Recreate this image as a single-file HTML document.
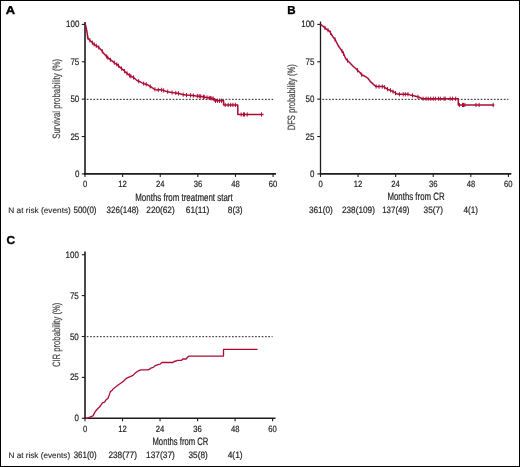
<!DOCTYPE html>
<html><head><meta charset="utf-8"><style>
html,body{margin:0;padding:0;background:#fff;}
body{width:520px;height:467px;overflow:hidden;}
svg{display:block;font-family:"Liberation Sans", sans-serif;will-change:transform;text-rendering:geometricPrecision;}
</style></head><body>
<svg width="520" height="467" viewBox="0 0 520 467">
<rect x="0" y="0" width="520" height="467" fill="#fff"/>
<rect x="0.5" y="0.5" width="519" height="466" fill="none" stroke="#000" stroke-width="1"/>
<path d="M85 21.9 V174.7" fill="none" stroke="#1c1c1c" stroke-width="1.6"/>
<path d="M84.2 173.9 H276" fill="none" stroke="#1c1c1c" stroke-width="1.6"/>
<line x1="81.8" y1="173.9" x2="85" y2="173.9" stroke="#1c1c1c" stroke-width="1.1"/>
<text x="74.88" y="176.9" font-size="9.4" fill="#242424" textLength="4.44" lengthAdjust="spacingAndGlyphs" stroke="#242424" stroke-width="0.2">0</text>
<line x1="81.8" y1="136.53" x2="85" y2="136.53" stroke="#1c1c1c" stroke-width="1.1"/>
<text x="70.42" y="139.53" font-size="9.4" fill="#242424" textLength="8.89" lengthAdjust="spacingAndGlyphs" stroke="#242424" stroke-width="0.2">25</text>
<line x1="81.8" y1="99.15" x2="85" y2="99.15" stroke="#1c1c1c" stroke-width="1.1"/>
<text x="70.41" y="102.15" font-size="9.4" fill="#242424" textLength="8.89" lengthAdjust="spacingAndGlyphs" stroke="#242424" stroke-width="0.2">50</text>
<line x1="81.8" y1="61.77" x2="85" y2="61.77" stroke="#1c1c1c" stroke-width="1.1"/>
<text x="70.42" y="64.77" font-size="9.4" fill="#242424" textLength="8.89" lengthAdjust="spacingAndGlyphs" stroke="#242424" stroke-width="0.2">75</text>
<line x1="81.8" y1="24.4" x2="85" y2="24.4" stroke="#1c1c1c" stroke-width="1.1"/>
<text x="66" y="27.4" font-size="9.4" fill="#242424" textLength="13.33" lengthAdjust="spacingAndGlyphs" stroke="#242424" stroke-width="0.2">100</text>
<line x1="85" y1="173.9" x2="85" y2="176.9" stroke="#1c1c1c" stroke-width="1.1"/>
<text x="82.88" y="186.8" font-size="9.0" fill="#242424" textLength="4.25" lengthAdjust="spacingAndGlyphs" stroke="#242424" stroke-width="0.2">0</text>
<line x1="122.62" y1="173.9" x2="122.62" y2="176.9" stroke="#1c1c1c" stroke-width="1.1"/>
<text x="118.26" y="186.8" font-size="9.0" fill="#242424" textLength="8.51" lengthAdjust="spacingAndGlyphs" stroke="#242424" stroke-width="0.2">12</text>
<line x1="160.24" y1="173.9" x2="160.24" y2="176.9" stroke="#1c1c1c" stroke-width="1.1"/>
<text x="155.91" y="186.8" font-size="9.0" fill="#242424" textLength="8.51" lengthAdjust="spacingAndGlyphs" stroke="#242424" stroke-width="0.2">24</text>
<line x1="197.86" y1="173.9" x2="197.86" y2="176.9" stroke="#1c1c1c" stroke-width="1.1"/>
<text x="193.63" y="186.8" font-size="9.0" fill="#242424" textLength="8.51" lengthAdjust="spacingAndGlyphs" stroke="#242424" stroke-width="0.2">36</text>
<line x1="235.48" y1="173.9" x2="235.48" y2="176.9" stroke="#1c1c1c" stroke-width="1.1"/>
<text x="231.32" y="186.8" font-size="9.0" fill="#242424" textLength="8.51" lengthAdjust="spacingAndGlyphs" stroke="#242424" stroke-width="0.2">48</text>
<line x1="273.1" y1="173.9" x2="273.1" y2="176.9" stroke="#1c1c1c" stroke-width="1.1"/>
<text x="268.81" y="186.8" font-size="9.0" fill="#242424" textLength="8.51" lengthAdjust="spacingAndGlyphs" stroke="#242424" stroke-width="0.2">60</text>
<line x1="86.8" y1="99.35" x2="273.1" y2="99.35" stroke="#222" stroke-width="1" stroke-dasharray="1.7 1.6"/>
<text transform="translate(60.3 138.4) rotate(-90)" x="-0.37" y="0" font-size="10.6" fill="#444" stroke="#444" stroke-width="0.2" textLength="79.84" lengthAdjust="spacingAndGlyphs">Survival probability (%)</text>
<text x="135.26" y="200.6" font-size="10.6" fill="#242424" textLength="97.4" lengthAdjust="spacingAndGlyphs" stroke="#242424" stroke-width="0.2">Months from treatment start</text>
<path d="M85.2 24.3 L85.9 26.4 L86.5 29.5 L86.9 31.5 L87.3 34.4 L87.7 37.4 L88.6 39 L90.3 40.7 L92.9 43.3 L95.4 45.4 L98 46.7 L99.7 48.4 L101.8 50.6 L103.6 53.3 L105.7 55.6 L108.3 58.1 L111.7 60.7 L115.1 63.3 L118 65.2 L119.9 67.1 L121.9 68.9 L123.8 70.3 L125.7 72.4 L128.3 74.4 L130.8 76.3 L133.4 77.4 L135.3 79 L137.3 80.7 L139.8 81.6 L142.4 83.1 L145 84.1 L147.3 84.6 L149.6 86.1 L151.9 87.5 L154.2 89.1 L156.5 89.9 L158.8 89.8 L161.2 89.7 L163.5 90.4 L165.8 91.2 L168.1 91.8 L170.4 92.3 L172.7 92.6 L175.5 92.9 L178.9 93.5 L182.4 94.5 L185.8 95.1 L189.3 95.2 L192.8 95.5 L196.2 96 L199.7 96.3 L203 96.7 L205.7 97.3 L208.4 97.7 L211.1 98.3 L214.3 98.7 L214.3 100.8 L223.6 100.8 L223.6 104.9 L237.8 104.9 L237.8 114.5 L263.5 114.5" fill="none" stroke="#ac0c35" stroke-width="1.5" stroke-linejoin="round"/>
<path d="M87.7 35.3v4.2M89.9 38.2v4.2M92.4 40.7v4.2M94.1 42.21v4.2M96.3 43.75v4.2M98.8 45.4v4.2M102.3 49.25v4.2M106.6 54.37v4.2M107.8 55.52v4.2M110.4 57.61v4.2M114.3 60.59v4.2M116.8 62.31v4.2M118.5 63.6v4.2M121.5 66.44v4.2M124.5 68.97v4.2M127 71.3v4.2M129.6 73.29v4.2M130.8 74.2v4.2M133.5 75.38v4.2M138.7 79.1v4.2M143.7 81.5v4.2M146.2 82.26v4.2M150.2 84.37v4.2M154.9 87.24v4.2M158.3 87.72v4.2M161.6 87.72v4.2M163.6 88.33v4.2M167.7 89.6v4.2M172 90.41v4.2M175.8 90.85v4.2M178.5 91.33v4.2M183.2 92.54v4.2M186.5 93.02v4.2M190.6 93.21v4.2M193.3 93.47v4.2M197.3 93.99v4.2M199.2 94.16v4.2M200.7 94.32v4.2M203.4 94.69v4.2M204.2 94.87v4.2M207 95.39v4.2M209.2 95.78v4.2M210.3 96.02v4.2M211.8 96.29v4.2M213.2 96.46v4.2M215.5 98.7v4.2M217.5 98.7v4.2M219.5 98.7v4.2M221.5 98.7v4.2M225.2 102.8v4.2M228.2 102.8v4.2M230.7 102.8v4.2M232.9 102.8v4.2M235.4 102.8v4.2M241.2 112.4v4.2M243.5 112.4v4.2M244.5 112.4v4.2M247.2 112.4v4.2M261.5 112.4v4.2" stroke="#ac0c35" stroke-width="1" fill="none"/>
<path d="M320.5 21.5 V174.7" fill="none" stroke="#1c1c1c" stroke-width="1.3"/>
<path d="M319.85 173.9 H511.3" fill="none" stroke="#1c1c1c" stroke-width="1.6"/>
<line x1="317.3" y1="173.9" x2="320.5" y2="173.9" stroke="#1c1c1c" stroke-width="1.1"/>
<text x="310.08" y="176.9" font-size="9.4" fill="#242424" textLength="4.44" lengthAdjust="spacingAndGlyphs" stroke="#242424" stroke-width="0.2">0</text>
<line x1="317.3" y1="136.53" x2="320.5" y2="136.53" stroke="#1c1c1c" stroke-width="1.1"/>
<text x="305.62" y="139.53" font-size="9.4" fill="#242424" textLength="8.89" lengthAdjust="spacingAndGlyphs" stroke="#242424" stroke-width="0.2">25</text>
<line x1="317.3" y1="99.15" x2="320.5" y2="99.15" stroke="#1c1c1c" stroke-width="1.1"/>
<text x="305.62" y="102.15" font-size="9.4" fill="#242424" textLength="8.89" lengthAdjust="spacingAndGlyphs" stroke="#242424" stroke-width="0.2">50</text>
<line x1="317.3" y1="61.77" x2="320.5" y2="61.77" stroke="#1c1c1c" stroke-width="1.1"/>
<text x="305.61" y="64.77" font-size="9.4" fill="#242424" textLength="8.89" lengthAdjust="spacingAndGlyphs" stroke="#242424" stroke-width="0.2">75</text>
<line x1="317.3" y1="24.4" x2="320.5" y2="24.4" stroke="#1c1c1c" stroke-width="1.1"/>
<text x="301.19" y="27.4" font-size="9.4" fill="#242424" textLength="13.33" lengthAdjust="spacingAndGlyphs" stroke="#242424" stroke-width="0.2">100</text>
<line x1="320.5" y1="173.9" x2="320.5" y2="176.9" stroke="#1c1c1c" stroke-width="1.1"/>
<text x="318.38" y="186.8" font-size="9.0" fill="#242424" textLength="4.25" lengthAdjust="spacingAndGlyphs" stroke="#242424" stroke-width="0.2">0</text>
<line x1="358.08" y1="173.9" x2="358.08" y2="176.9" stroke="#1c1c1c" stroke-width="1.1"/>
<text x="353.72" y="186.8" font-size="9.0" fill="#242424" textLength="8.51" lengthAdjust="spacingAndGlyphs" stroke="#242424" stroke-width="0.2">12</text>
<line x1="395.66" y1="173.9" x2="395.66" y2="176.9" stroke="#1c1c1c" stroke-width="1.1"/>
<text x="391.32" y="186.8" font-size="9.0" fill="#242424" textLength="8.51" lengthAdjust="spacingAndGlyphs" stroke="#242424" stroke-width="0.2">24</text>
<line x1="433.24" y1="173.9" x2="433.24" y2="176.9" stroke="#1c1c1c" stroke-width="1.1"/>
<text x="429.01" y="186.8" font-size="9.0" fill="#242424" textLength="8.51" lengthAdjust="spacingAndGlyphs" stroke="#242424" stroke-width="0.2">36</text>
<line x1="470.82" y1="173.9" x2="470.82" y2="176.9" stroke="#1c1c1c" stroke-width="1.1"/>
<text x="466.65" y="186.8" font-size="9.0" fill="#242424" textLength="8.51" lengthAdjust="spacingAndGlyphs" stroke="#242424" stroke-width="0.2">48</text>
<line x1="508.4" y1="173.9" x2="508.4" y2="176.9" stroke="#1c1c1c" stroke-width="1.1"/>
<text x="504.11" y="186.8" font-size="9.0" fill="#242424" textLength="8.51" lengthAdjust="spacingAndGlyphs" stroke="#242424" stroke-width="0.2">60</text>
<line x1="322.3" y1="99.35" x2="508.4" y2="99.35" stroke="#222" stroke-width="1" stroke-dasharray="1.7 1.6"/>
<text transform="translate(294.7 129.75) rotate(-90)" x="-0.61" y="0" font-size="10.6" fill="#444" stroke="#444" stroke-width="0.2" textLength="66.17" lengthAdjust="spacingAndGlyphs">DFS probability (%)</text>
<text x="387.47" y="200.4" font-size="10.6" fill="#242424" textLength="57.11" lengthAdjust="spacingAndGlyphs" stroke="#242424" stroke-width="0.2">Months from CR</text>
<path d="M320.6 24.4 L322.5 25.8 L324.4 27.4 L327 29.6 L329.6 31.2 L330.8 33.5 L332.8 36.7 L334.7 38.9 L336.6 42.5 L338.6 46.3 L340.6 49.1 L343.1 52.6 L344.9 56.8 L346.6 59.8 L349.1 62 L352.6 65.8 L356 68.8 L358.6 71.4 L360 72.5 L361.7 74.7 L363.4 75.5 L365.9 76.8 L368.1 78.5 L370.2 81.4 L372.7 83.6 L374.8 85.7 L376.1 86.5 L383.7 86.6 L385.4 87.8 L388 89.5 L390.5 90.3 L393.9 92 L396.4 93.7 L399 94.3 L408 94.3 L410 94.9 L412.1 95.3 L415.5 96.2 L418.5 97 L421.4 98.3 L422.5 98.7 L458.3 98.7 L458.3 105 L494.3 105" fill="none" stroke="#ac0c35" stroke-width="1.5" stroke-linejoin="round"/>
<path d="M325 25.81v4.2M328 28.12v4.2M330.5 30.82v4.2M335 37.37v4.2M342 48.96v4.2M343.5 51.43v4.2M347.5 58.49v4.2M357.5 68.2v4.2M361.7 72.6v4.2M376.1 84.4v4.2M379 84.44v4.2M382.3 84.48v4.2M384.6 85.14v4.2M387.5 87.07v4.2M390.5 88.2v4.2M393 89.45v4.2M395.5 90.99v4.2M399.4 92.2v4.2M403.2 92.2v4.2M405.3 92.2v4.2M407.9 92.2v4.2M412.5 93.31v4.2M418 94.77v4.2M423.1 96.6v4.2M426.1 96.6v4.2M428.2 96.6v4.2M430.7 96.6v4.2M433.3 96.6v4.2M435.4 96.6v4.2M438.4 96.6v4.2M440.3 96.6v4.2M444 96.6v4.2M445.2 96.6v4.2M450.2 96.6v4.2M452.6 96.6v4.2M455.7 96.6v4.2M459.4 102.9v4.2M462.5 102.9v4.2M463.5 102.9v4.2M464.9 102.9v4.2M476 102.9v4.2M479.1 102.9v4.2M493.2 102.9v4.2" stroke="#ac0c35" stroke-width="1" fill="none"/>
<path d="M85 251.5 V419.1" fill="none" stroke="#1c1c1c" stroke-width="1.6"/>
<path d="M84.2 418.3 H275.5" fill="none" stroke="#1c1c1c" stroke-width="1.6"/>
<line x1="81.8" y1="418.3" x2="85" y2="418.3" stroke="#1c1c1c" stroke-width="1.1"/>
<text x="74.38" y="421.3" font-size="9.4" fill="#242424" textLength="4.44" lengthAdjust="spacingAndGlyphs" stroke="#242424" stroke-width="0.2">0</text>
<line x1="81.8" y1="377.4" x2="85" y2="377.4" stroke="#1c1c1c" stroke-width="1.1"/>
<text x="69.92" y="380.4" font-size="9.4" fill="#242424" textLength="8.89" lengthAdjust="spacingAndGlyphs" stroke="#242424" stroke-width="0.2">25</text>
<line x1="81.8" y1="336.5" x2="85" y2="336.5" stroke="#1c1c1c" stroke-width="1.1"/>
<text x="69.91" y="339.5" font-size="9.4" fill="#242424" textLength="8.89" lengthAdjust="spacingAndGlyphs" stroke="#242424" stroke-width="0.2">50</text>
<line x1="81.8" y1="295.6" x2="85" y2="295.6" stroke="#1c1c1c" stroke-width="1.1"/>
<text x="69.92" y="298.6" font-size="9.4" fill="#242424" textLength="8.89" lengthAdjust="spacingAndGlyphs" stroke="#242424" stroke-width="0.2">75</text>
<line x1="81.8" y1="254.7" x2="85" y2="254.7" stroke="#1c1c1c" stroke-width="1.1"/>
<text x="65.5" y="257.7" font-size="9.4" fill="#242424" textLength="13.33" lengthAdjust="spacingAndGlyphs" stroke="#242424" stroke-width="0.2">100</text>
<line x1="85" y1="418.3" x2="85" y2="421.3" stroke="#1c1c1c" stroke-width="1.1"/>
<text x="82.88" y="431.8" font-size="9.0" fill="#242424" textLength="4.25" lengthAdjust="spacingAndGlyphs" stroke="#242424" stroke-width="0.2">0</text>
<line x1="122.52" y1="418.3" x2="122.52" y2="421.3" stroke="#1c1c1c" stroke-width="1.1"/>
<text x="118.16" y="431.8" font-size="9.0" fill="#242424" textLength="8.51" lengthAdjust="spacingAndGlyphs" stroke="#242424" stroke-width="0.2">12</text>
<line x1="160.04" y1="418.3" x2="160.04" y2="421.3" stroke="#1c1c1c" stroke-width="1.1"/>
<text x="155.71" y="431.8" font-size="9.0" fill="#242424" textLength="8.51" lengthAdjust="spacingAndGlyphs" stroke="#242424" stroke-width="0.2">24</text>
<line x1="197.56" y1="418.3" x2="197.56" y2="421.3" stroke="#1c1c1c" stroke-width="1.1"/>
<text x="193.33" y="431.8" font-size="9.0" fill="#242424" textLength="8.51" lengthAdjust="spacingAndGlyphs" stroke="#242424" stroke-width="0.2">36</text>
<line x1="235.08" y1="418.3" x2="235.08" y2="421.3" stroke="#1c1c1c" stroke-width="1.1"/>
<text x="230.92" y="431.8" font-size="9.0" fill="#242424" textLength="8.51" lengthAdjust="spacingAndGlyphs" stroke="#242424" stroke-width="0.2">48</text>
<line x1="272.6" y1="418.3" x2="272.6" y2="421.3" stroke="#1c1c1c" stroke-width="1.1"/>
<text x="268.31" y="431.8" font-size="9.0" fill="#242424" textLength="8.51" lengthAdjust="spacingAndGlyphs" stroke="#242424" stroke-width="0.2">60</text>
<line x1="86.8" y1="336.7" x2="272.6" y2="336.7" stroke="#222" stroke-width="1" stroke-dasharray="1.7 1.6"/>
<text transform="translate(60.2 366.7) rotate(-90)" x="-0.4" y="0" font-size="10.6" fill="#444" stroke="#444" stroke-width="0.2" textLength="64.47" lengthAdjust="spacingAndGlyphs">CIR probability (%)</text>
<text x="152.48" y="445.4" font-size="10.6" fill="#242424" textLength="55.89" lengthAdjust="spacingAndGlyphs" stroke="#242424" stroke-width="0.2">Months from CR</text>
<path d="M85.5 418.3 L86.6 418.3 L89.8 417.2 L93 415.9 L94.9 412.1 L96.9 409.5 L99.5 407 L101.4 404.4 L102.4 402.8 L104.6 402.2 L105.9 399.9 L108.2 398 L109.1 395.4 L110.4 391.6 L112.3 390.3 L113 389 L115.6 387.1 L118.1 385.1 L120.7 383.2 L122 382.2 L123.7 381.1 L125.5 379 L127.8 377.6 L130.7 376.4 L133 375.3 L134.7 373.6 L137 371.8 L139.3 370.4 L141 369.8 L148 369.8 L149.7 369.2 L150.9 368.1 L153.3 367.4 L155 365.8 L157.9 364.6 L160.2 364.1 L161.9 362.5 L172.9 362.5 L174 361.5 L176.3 361 L177.5 360.4 L181.5 360.4 L182.7 359 L186.1 359 L187.3 357.5 L189 356.1 L223.5 356.1 L223.5 349.4 L257.6 349.4" fill="none" stroke="#ac0c35" stroke-width="1.3" stroke-linejoin="round"/>
<text x="8.34" y="213.3" font-size="8.1" fill="#242424" textLength="62.49" lengthAdjust="spacingAndGlyphs" stroke="#242424" stroke-width="0.1">N at risk (events)</text>
<text x="73.5" y="213.3" font-size="9.2" fill="#242424" textLength="22.97" lengthAdjust="spacingAndGlyphs" stroke="#242424" stroke-width="0.2">500(0)</text>
<text x="106.59" y="213.3" font-size="9.2" fill="#242424" textLength="32.21" lengthAdjust="spacingAndGlyphs" stroke="#242424" stroke-width="0.2">326(148)</text>
<text x="146.3" y="213.3" font-size="9.2" fill="#242424" textLength="28.4" lengthAdjust="spacingAndGlyphs" stroke="#242424" stroke-width="0.2">220(62)</text>
<text x="185.79" y="213.3" font-size="9.2" fill="#242424" textLength="23.52" lengthAdjust="spacingAndGlyphs" stroke="#242424" stroke-width="0.2">61(11)</text>
<text x="227.74" y="213.3" font-size="9.2" fill="#242424" textLength="14.87" lengthAdjust="spacingAndGlyphs" stroke="#242424" stroke-width="0.2">8(3)</text>
<text x="308.89" y="213.1" font-size="9.2" fill="#242424" textLength="23.9" lengthAdjust="spacingAndGlyphs" stroke="#242424" stroke-width="0.2">361(0)</text>
<text x="341.9" y="213.1" font-size="9.2" fill="#242424" textLength="33.02" lengthAdjust="spacingAndGlyphs" stroke="#242424" stroke-width="0.2">238(109)</text>
<text x="382.2" y="213.1" font-size="9.2" fill="#242424" textLength="27.28" lengthAdjust="spacingAndGlyphs" stroke="#242424" stroke-width="0.2">137(49)</text>
<text x="423.58" y="213.1" font-size="9.2" fill="#242424" textLength="19.33" lengthAdjust="spacingAndGlyphs" stroke="#242424" stroke-width="0.2">35(7)</text>
<text x="463.42" y="213.1" font-size="9.2" fill="#242424" textLength="14.58" lengthAdjust="spacingAndGlyphs" stroke="#242424" stroke-width="0.2">4(1)</text>
<text x="8.55" y="457.7" font-size="8.1" fill="#242424" textLength="61.57" lengthAdjust="spacingAndGlyphs" stroke="#242424" stroke-width="0.1">N at risk (events)</text>
<text x="73.7" y="457.7" font-size="9.2" fill="#242424" textLength="22.97" lengthAdjust="spacingAndGlyphs" stroke="#242424" stroke-width="0.2">361(0)</text>
<text x="108.39" y="457.7" font-size="9.2" fill="#242424" textLength="28.61" lengthAdjust="spacingAndGlyphs" stroke="#242424" stroke-width="0.2">238(77)</text>
<text x="146.06" y="457.7" font-size="9.2" fill="#242424" textLength="28.85" lengthAdjust="spacingAndGlyphs" stroke="#242424" stroke-width="0.2">137(37)</text>
<text x="188.48" y="457.7" font-size="9.2" fill="#242424" textLength="19.33" lengthAdjust="spacingAndGlyphs" stroke="#242424" stroke-width="0.2">35(8)</text>
<text x="227.72" y="457.7" font-size="9.2" fill="#242424" textLength="14.89" lengthAdjust="spacingAndGlyphs" stroke="#242424" stroke-width="0.2">4(1)</text>
<text x="5.76" y="13.8" font-size="11.5" fill="#000" textLength="9.38" lengthAdjust="spacingAndGlyphs" font-weight="bold" stroke="#000" stroke-width="0.35">A</text>
<text x="287.24" y="13.8" font-size="11.5" fill="#000" textLength="8.36" lengthAdjust="spacingAndGlyphs" font-weight="bold" stroke="#000" stroke-width="0.35">B</text>
<text x="6.44" y="243.8" font-size="11.5" fill="#000" textLength="8.58" lengthAdjust="spacingAndGlyphs" font-weight="bold" stroke="#000" stroke-width="0.35">C</text>
</svg>
</body></html>
